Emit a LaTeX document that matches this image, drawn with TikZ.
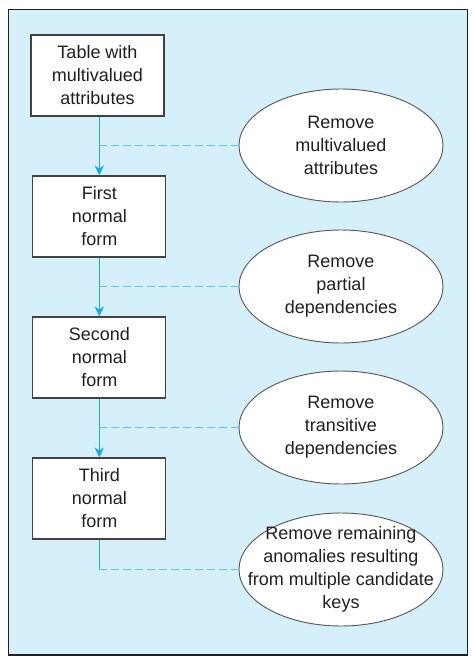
\documentclass[tikz,border=0pt]{standalone}
\usepackage{fontspec}
\setmainfont{Liberation Sans}
\usetikzlibrary{shapes.geometric,arrows.meta}
\definecolor{bgblue}{HTML}{D5EFFB}
\definecolor{linecyan}{HTML}{1AA7E6}
\definecolor{dashcyan}{HTML}{5CC0EE}
\definecolor{txt}{HTML}{231F20}
\tikzset{
  stepbox/.style={draw=txt!85, line width=0.9pt, fill=white, minimum width=133*0.75pt, minimum height=81*0.75pt, inner sep=0pt, align=center, text=txt, font=\fontsize{13.5}{17.25}\selectfont},
  oval/.style={ellipse, draw=black!65, line width=0.7pt, fill=white, minimum width=204*0.75pt, minimum height=113*0.75pt, inner sep=0pt, align=center, text=txt, font=\fontsize{13.5}{17.25}\selectfont},
  flow/.style={draw=linecyan, line width=0.9pt, -{Stealth[length=7.5pt,width=7pt]}},
  flowplain/.style={draw=linecyan, line width=0.9pt},
  link/.style={draw=dashcyan, line width=1pt, dash pattern=on 5.5pt off 3.5pt}
}
\begin{document}
\begin{tikzpicture}[x=0.75pt,y=-0.75pt]
\useasboundingbox (0,0) rectangle (474,665);
\draw[fill=bgblue, draw=txt, line width=0.8pt] (8.5,9.5) rectangle (467.5,655);
\node[stepbox] (b1) at (97.5,75.5) {Table with\\multivalued\\attributes};
\node[stepbox] (b2) at (99.3,216.5) {First\\normal\\form};
\node[stepbox] (b3) at (99.3,357.5) {Second\\normal\\form};
\node[stepbox] (b4) at (99.3,498.5) {Third\\normal\\form};
\node[oval] (e1) at (341,145.5) {Remove\\multivalued\\attributes};
\node[oval] (e2) at (341,286.5) {Remove\\partial\\dependencies};
\node[oval] (e3) at (341,427.5) {Remove\\transitive\\dependencies};
\node[oval, inner xsep=-16pt, inner ysep=-6pt] (e4) at (341,569.5) {Remove remaining\\anomalies resulting\\from multiple candidate\\keys};
\draw[flow] (b1.south -| b2.north) -- (b2.north);
\draw[flow] (b2.south) -- (b3.north);
\draw[flow] (b3.south) -- (b4.north);
\coordinate (c1) at (b2.north |- e1.west);
\coordinate (c2) at (b2.north |- e2.west);
\coordinate (c3) at (b2.north |- e3.west);
\coordinate (c4) at (b4.south |- e4.west);
\draw[flowplain] (b4.south) -- (c4);
\draw[link] (c1) -- (e1.west);
\draw[link] (c2) -- (e2.west);
\draw[link] (c3) -- (e3.west);
\draw[link] (c4) -- (e4.west);
\end{tikzpicture}
\end{document}
